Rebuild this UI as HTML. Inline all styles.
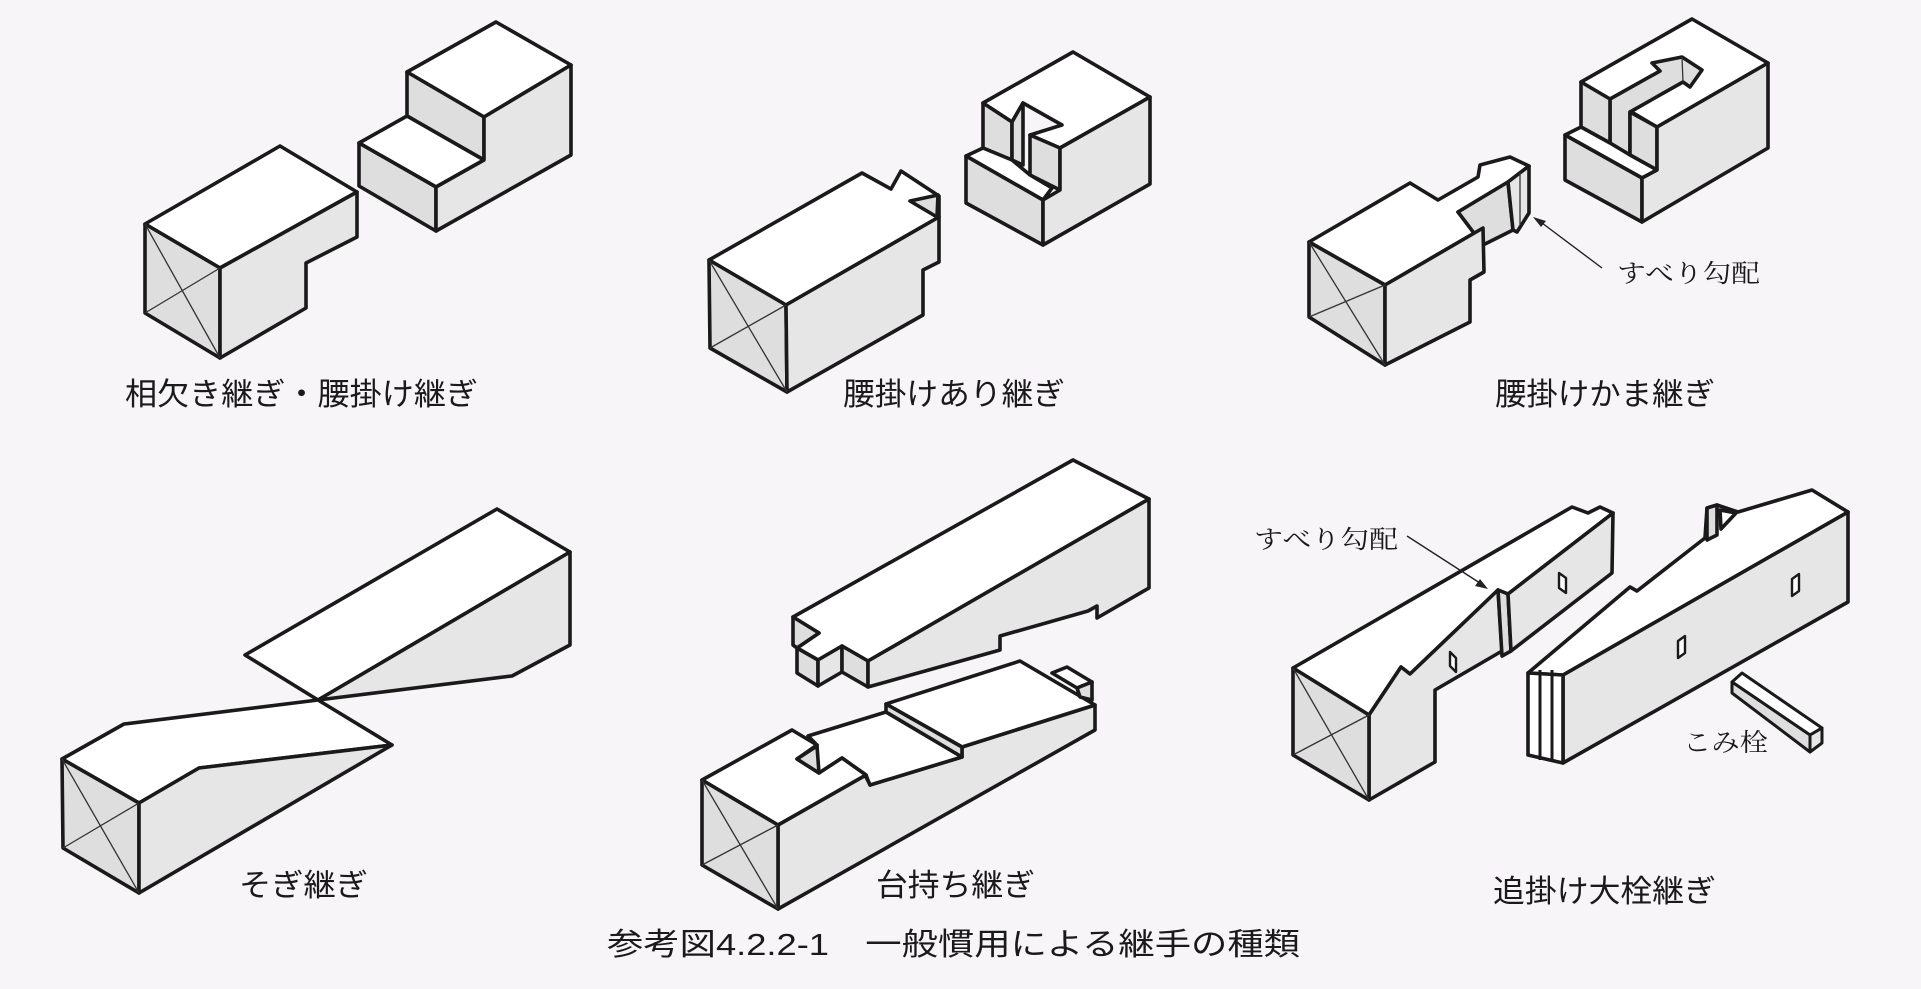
<!DOCTYPE html>
<html><head><meta charset="utf-8"><style>
html,body{margin:0;padding:0;background:#f7f5f8;}
svg{display:block;}
.s{stroke:#1a1a1a;stroke-width:3.6;stroke-linejoin:round;stroke-linecap:round;}
.g{fill:#dedede;}
.g2{fill:#e6e6e6;}
.w{fill:#ffffff;}
.t{stroke:#333;stroke-width:1.3;fill:none;}
.lab{font-family:"Liberation Sans","Noto Sans CJK JP",sans-serif;font-size:31px;fill:#1a1a1a;}
.ser{font-family:"Liberation Serif","Noto Serif CJK SC",serif;font-size:25px;fill:#1a1a1a;}
</style></head><body>
<svg width="1921" height="989" viewBox="0 0 1921 989" xmlns="http://www.w3.org/2000/svg">
<rect width="1921" height="989" fill="#f7f5f8"/>

<!-- FIG 1 left block -->
<g class="s">
<polygon class="w" points="145,224 280,146 357,192 220,268"/>
<polygon class="g" points="145,224 220,268 220,358 145,313"/>
<polygon class="g2" points="220,268 357,192 357,237 306,263 306,308 220,358"/>
</g>
<line class="t" x1="145" y1="224" x2="220" y2="358"/>
<line class="t" x1="220" y1="268" x2="145" y2="313"/>
<!-- FIG 1 right block -->
<g class="s">
<polygon class="w" points="407,72 496,22 571,65 484,117"/>
<polygon class="g" points="407,72 484,117 484,160 407,116"/>
<polygon class="w" points="407,116 484,160 436,187 359,143"/>
<polygon class="g" points="359,143 436,187 436,231 359,186"/>
<polygon class="g2" points="484,117 571,65 571,155 436,231 436,187 484,160"/>
</g>

<!-- FIG 2 left block -->
<g class="s">
<polygon class="w" points="709,260 862,173 891,189 901,171 939,196 939,217 786,305"/>
<polygon class="g" points="910,201 938,195 937,217"/>
<polygon class="g" points="709,260 786,305 787,392 710,348"/>
<polygon class="g2" points="786,305 939,217 939,262 923,270 923,315 787,392"/>
</g>
<line class="t" x1="709" y1="260" x2="787" y2="392"/>
<line class="t" x1="786" y1="305" x2="710" y2="348"/>
<!-- FIG 2 right block -->
<g class="s">
<polygon class="w" points="983,103 1073,52 1150,97 1060,148 1030,135 1062,125 1023,103 1012,122"/>
<polygon class="g" points="983,103 1012,122 1012,160 983,148"/>
<polygon class="g" points="1012,122 1023,103 1023,165 1012,160"/>
<polygon class="g" points="1030,135 1060,148 1060,190 1030,175"/>
<polygon class="w" points="966,156 983,148 1012,160 1030,175 1052,188 1043,200"/>
<polygon class="g" points="966,156 1043,200 1043,245 966,203"/>
<polygon class="g2" points="1060,148 1150,97 1150,184 1043,245 1043,200 1060,190"/>
</g>

<!-- FIG 3 left block -->
<g class="s">
<polygon class="w" points="1309,242 1410,183 1438,200 1478,177 1480,165 1510,157 1529,166 1508,182 1458,212 1483,228 1385,285"/>
<polygon class="g" points="1458,212 1508,182 1513,230 1483,245"/>
<polygon class="g2" points="1508,182 1529,166 1529,213 1517,232 1513,230"/>
<polygon class="g" points="1309,242 1385,285 1385,365 1309,317"/>
<polygon class="g2" points="1385,285 1483,228 1484,272 1470,280 1470,322 1385,365"/>
</g>
<line class="t" x1="1520" y1="172" x2="1520" y2="225"/>
<line class="t" x1="1309" y1="242" x2="1385" y2="365"/>
<line class="t" x1="1385" y1="285" x2="1309" y2="317"/>
<!-- FIG 3 right block -->
<g class="s">
<polygon class="w" points="1581,82 1692,19 1768,63 1657,127"/>
<polygon class="g" points="1610,99 1660,71 1652,63 1682,57 1702,70 1690,87 1683,82 1630,112 1630,155 1610,143"/>
<polygon class="g" points="1581,82 1610,99 1610,143 1581,127"/>
<polygon class="g" points="1630,112 1657,127 1657,170 1630,155"/>
<polygon class="w" points="1565,135 1581,127 1610,143 1630,155 1657,170 1642,178"/>
<polygon class="g" points="1565,135 1642,178 1642,222 1565,180"/>
<polygon class="g2" points="1657,127 1768,63 1768,148 1642,222 1642,178 1657,170"/>
</g>
<line class="t" x1="1682" y1="57" x2="1683" y2="82"/>
<!-- labels top row -->
<text class="lab" x="125" y="405" textLength="353" lengthAdjust="spacingAndGlyphs">相欠き継ぎ・腰掛け継ぎ</text>
<text class="lab" x="843" y="405" textLength="222" lengthAdjust="spacingAndGlyphs">腰掛けあり継ぎ</text>
<text class="lab" x="1495" y="405" textLength="220" lengthAdjust="spacingAndGlyphs">腰掛けかま継ぎ</text>
<text class="ser" x="1617" y="282" textLength="143" lengthAdjust="spacingAndGlyphs">すべり勾配</text>
<line x1="1602" y1="268" x2="1538" y2="220" stroke="#222" stroke-width="1.4"/>
<polygon points="1533,217 1546,221 1541,227" fill="#222"/>

<!-- FIG 4 -->
<g class="s">
<polygon class="w" points="245,655 497,509 570,552 318,700"/>
<polygon class="g2" points="318,700 570,552 570,645 512,676"/>
<polygon class="w" points="62,759 124,724 318,700 392,745 199,768 139,803"/>
<polygon class="g" points="62,759 139,803 139,893 63,848"/>
<polygon class="g2" points="139,803 199,768 392,745 139,893"/>
</g>
<line class="t" x1="62" y1="759" x2="139" y2="893"/>
<line class="t" x1="139" y1="803" x2="63" y2="848"/>

<!-- FIG 5 upper -->
<g class="s">
<polygon class="w" points="793,617 1073,460 1149,499 868,661 842,646 818,660 797,648 819,633"/>
<polygon class="g" points="793,617 819,633 797,648 793,645"/>
<polygon class="g" points="797,648 818,660 818,686 797,673"/>
<polygon class="g2" points="818,660 842,646 842,672 818,686"/>
<polygon class="g" points="842,646 868,661 868,687 842,672"/>
<polygon class="g2" points="868,661 1149,499 1149,588 1097,618 1097,606 1088,611 1000,636 1000,650 868,687"/>
</g>
<!-- FIG 5 lower -->
<g class="s">
<polygon class="g2" points="778,825 865,775 870,785 962,757 962,747 1095,705 1095,730 778,909"/>
<polygon class="w" points="808,736 886,712 962,757 870,785 866,775 842,758 819,773 797,759 817,745"/>
<polygon class="w" points="702,780 792,730 817,745 797,759 819,773 842,758 866,775 778,825"/>
<polygon class="g" points="797,759 817,746 819,773"/>
<polygon class="w" points="886,704 1020,661 1095,705 962,747"/>
<polygon class="g" points="886,704 962,747 962,757 886,712"/>
<polygon class="w" points="1052,673 1067,667 1092,682 1077,688"/>
<polygon class="g" points="1077,688 1092,682 1092,700 1080,697"/>
<polygon class="g" points="702,780 778,825 778,909 702,865"/>
</g>
<line class="t" x1="702" y1="780" x2="778" y2="909"/>
<line class="t" x1="778" y1="825" x2="702" y2="865"/>

<!-- FIG 6 left beam -->
<g class="s">
<polygon class="w" points="1293,668 1572,507 1588,513 1600,507 1613,513 1508,594 1498,590 1410,674 1401,667 1369,715"/>
<polygon class="g2" points="1401,667 1410,674 1498,590 1502,651 1435,690 1435,762 1369,800 1369,715"/>
<polygon class="g" points="1498,590 1508,594 1511,651 1502,656"/>
<polygon class="g2" points="1508,594 1613,513 1612,573 1511,651"/>
<polygon class="g" points="1293,668 1369,715 1369,800 1293,755"/>
</g>
<line class="t" x1="1293" y1="668" x2="1369" y2="800"/>
<line class="t" x1="1369" y1="715" x2="1293" y2="755"/>
<g class="s" style="stroke-width:2.4"><polygon class="w" points="1450,652 1456,658 1456,672 1450,666"/><polygon class="w" points="1559,573 1566,578 1566,593 1559,588"/></g>
<!-- FIG 6 right beam -->
<g class="s">
<polygon class="w" points="1528,673 1630,587 1637,591 1705,538 1707,508 1717,505 1738,512 1812,490 1848,512 1563,675"/>
<polygon class="g" points="1707,508 1717,505 1717,535 1707,540"/>
<polygon class="w" points="1720,510 1736,513 1721,529"/>
<polygon class="g2" points="1563,675 1848,512 1848,602 1563,763"/>
<polygon class="w" points="1528,673 1563,675 1563,763 1528,755"/>
</g>
<line x1="1540" y1="670" x2="1540" y2="760" stroke="#1a1a1a" stroke-width="3"/>
<line x1="1552" y1="670" x2="1552" y2="762" stroke="#1a1a1a" stroke-width="3"/>
<g class="s" style="stroke-width:2.4"><polygon class="w" points="1678,641 1685,636 1685,653 1678,658"/><polygon class="w" points="1792,579 1799,574 1799,591 1792,596"/></g>
<!-- peg -->
<g class="s" style="stroke-width:3">
<polygon class="w" points="1732,682 1742,673 1822,728 1810,735"/>
<polygon class="g" points="1732,682 1810,735 1810,752 1732,693"/>
<polygon class="g2" points="1810,735 1822,728 1822,743 1810,752"/>
</g>
<text class="ser" x="1254" y="548" textLength="144" lengthAdjust="spacingAndGlyphs">すべり勾配</text>
<line x1="1407" y1="536" x2="1483" y2="585" stroke="#222" stroke-width="1.4"/>
<polygon points="1488,589 1475,586 1480,579" fill="#222"/>
<text class="ser" x="1683" y="751" textLength="85" lengthAdjust="spacingAndGlyphs">こみ栓</text>

<!-- labels bottom row -->
<text class="lab" x="239" y="896" textLength="129" lengthAdjust="spacingAndGlyphs">そぎ継ぎ</text>
<text class="lab" x="876" y="896" textLength="159" lengthAdjust="spacingAndGlyphs">台持ち継ぎ</text>
<text class="lab" x="1493" y="902" textLength="223" lengthAdjust="spacingAndGlyphs">追掛け大栓継ぎ</text>
<text class="lab" x="607" y="955" textLength="693" lengthAdjust="spacingAndGlyphs">参考図4.2.2-1　一般慣用による継手の種類</text>
</svg>
</body></html>
